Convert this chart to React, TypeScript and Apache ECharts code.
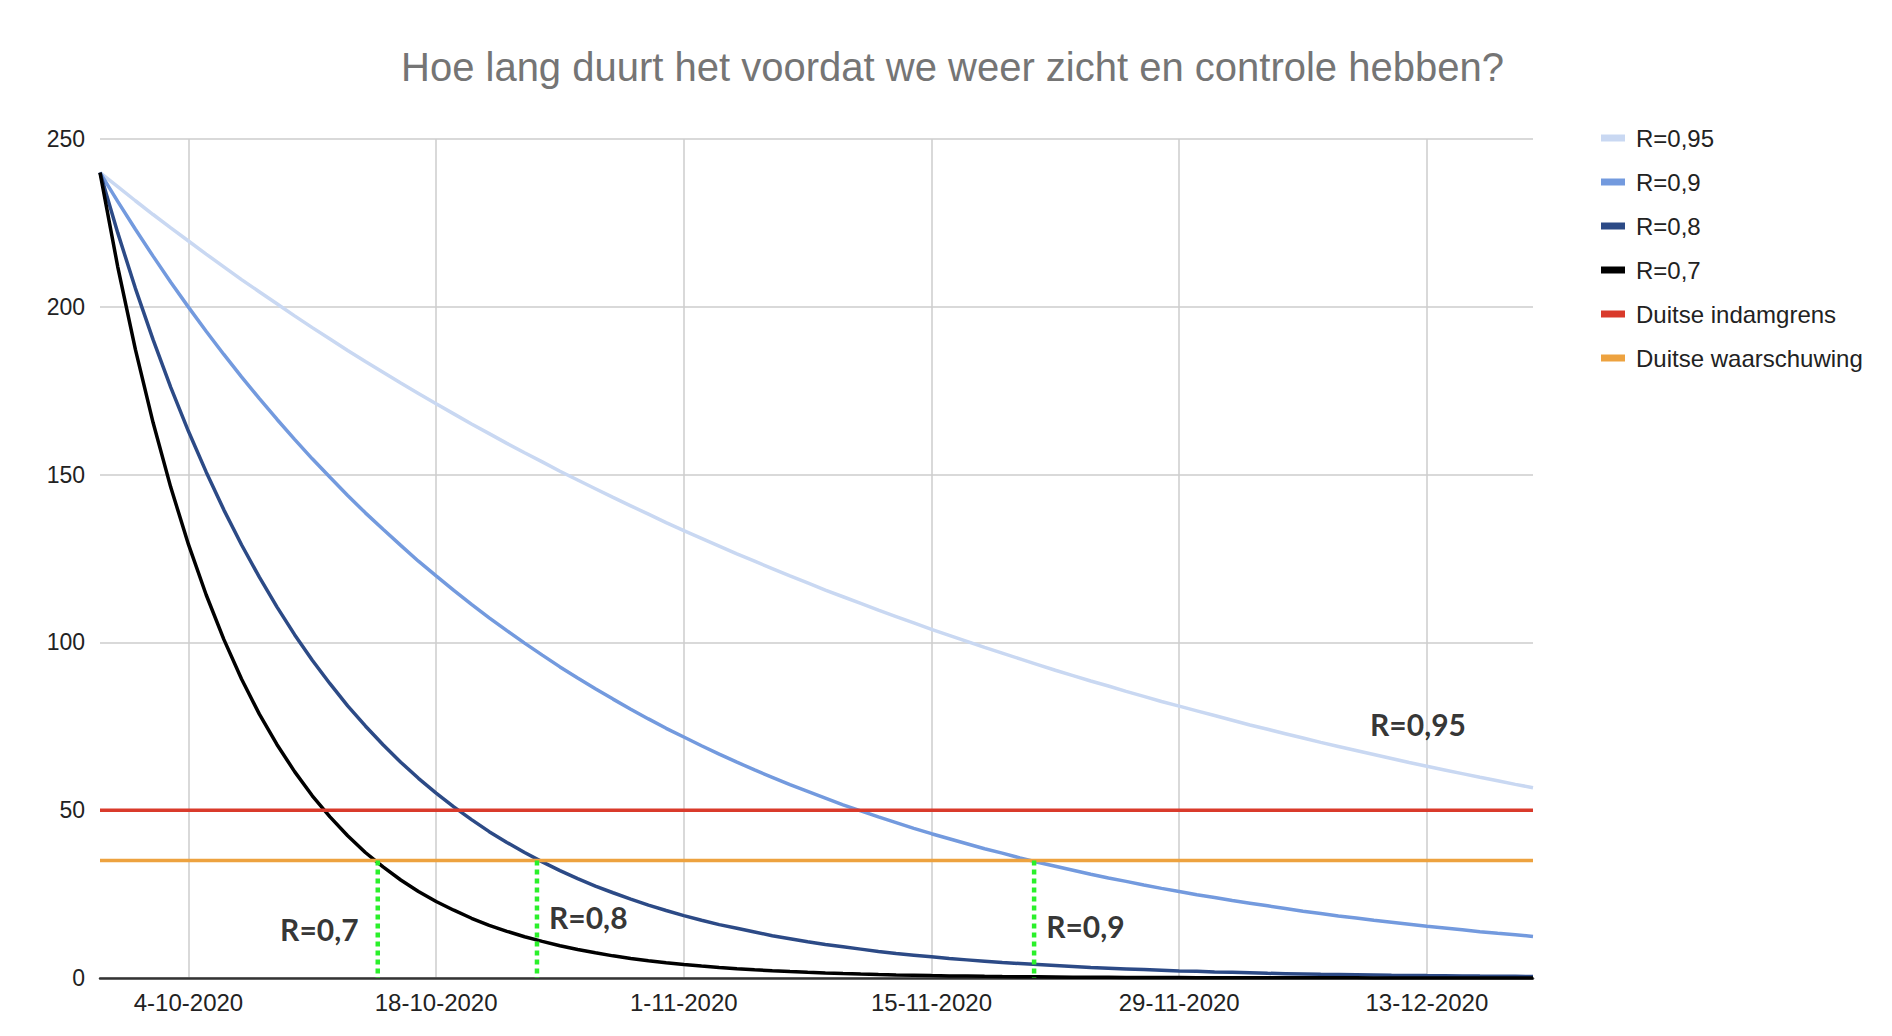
import React, { useEffect, useRef } from "react";
import * as echarts from "echarts";

const TITLE = "Hoe lang duurt het voordat we weer zicht en controle hebben?";
const START_DATE = [2020, 9, 29];
const DAY_COUNT = 82;
const TICK_LABELS = ["4-10-2020", "18-10-2020", "1-11-2020", "15-11-2020", "29-11-2020", "13-12-2020"];

const R095 = [
  240, 235.8, 231.6, 227.5, 223.5, 219.6, 215.7, 211.9, 208.1, 204.5,
  200.9, 197.3, 193.8, 190.4, 187.0, 183.7, 180.5, 177.3, 174.2, 171.1,
  168.1, 165.1, 162.2, 159.3, 156.5, 153.8, 151.0, 148.4, 145.8, 143.2,
  140.7, 138.2, 135.7, 133.3, 131.0, 128.7, 126.4, 124.2, 122.0, 119.8,
  117.7, 115.6, 113.6, 111.6, 109.6, 107.7, 105.8, 103.9, 102.1, 100.3,
  98.5, 96.8, 95.1, 93.4, 91.7, 90.1, 88.5, 87.0, 85.4, 83.9,
  82.4, 81.0, 79.6, 78.2, 76.8, 75.4, 74.1, 72.8, 71.5, 70.2,
  69.0, 67.8, 66.6, 65.4, 64.2, 63.1, 62.0, 60.9, 59.8, 58.8,
  57.7, 56.7,
];
const R09 = [
  240, 231.4, 223.1, 215.1, 207.3, 199.9, 192.7, 185.8, 179.1, 172.7,
  166.5, 160.5, 154.7, 149.2, 143.8, 138.6, 133.7, 128.9, 124.2, 119.8,
  115.5, 111.3, 107.3, 103.5, 99.8, 96.2, 92.7, 89.4, 86.2, 83.1,
  80.1, 77.2, 74.4, 71.8, 69.2, 66.7, 64.3, 62.0, 59.8, 57.6,
  55.6, 53.6, 51.6, 49.8, 48.0, 46.3, 44.6, 43.0, 41.5, 40.0,
  38.5, 37.2, 35.8, 34.5, 33.3, 32.1, 30.9, 29.8, 28.8, 27.7,
  26.7, 25.8, 24.8, 24.0, 23.1, 22.3, 21.5, 20.7, 19.9, 19.2,
  18.5, 17.9, 17.2, 16.6, 16.0, 15.4, 14.9, 14.4, 13.8, 13.3,
  12.9, 12.4,
];
const R08 = [
  240, 222.1, 205.5, 190.2, 176.0, 162.9, 150.8, 139.5, 129.1, 119.5,
  110.6, 102.3, 94.7, 87.7, 81.1, 75.1, 69.5, 64.3, 59.5, 55.1,
  51.0, 47.2, 43.6, 40.4, 37.4, 34.6, 32.0, 29.6, 27.4, 25.4,
  23.5, 21.7, 20.1, 18.6, 17.2, 15.9, 14.8, 13.7, 12.6, 11.7,
  10.8, 10.0, 9.3, 8.6, 7.9, 7.3, 6.8, 6.3, 5.8, 5.4,
  5.0, 4.6, 4.3, 4.0, 3.7, 3.4, 3.1, 2.9, 2.7, 2.5,
  2.3, 2.1, 2.0, 1.8, 1.7, 1.6, 1.4, 1.3, 1.2, 1.1,
  1.06, 0.98, 0.91, 0.84, 0.78, 0.72, 0.67, 0.62, 0.57, 0.53,
  0.49, 0.45,
];
const R07 = [
  240, 212.0, 187.3, 165.5, 146.2, 129.2, 114.2, 100.9, 89.1, 78.7,
  69.6, 61.5, 54.3, 48.0, 42.4, 37.4, 33.1, 29.2, 25.8, 22.8,
  20.2, 17.8, 15.7, 13.9, 12.3, 10.9, 9.6, 8.5, 7.5, 6.6,
  5.84, 5.16, 4.56, 4.03, 3.56, 3.15, 2.78, 2.46, 2.17, 1.92,
  1.69, 1.5, 1.32, 1.17, 1.03, 0.91, 0.81, 0.71, 0.63, 0.56,
  0.49, 0.43, 0.38, 0.34, 0.3, 0.26, 0.23, 0.21, 0.18, 0.16,
  0.14, 0.13, 0.11, 0.1, 0.09, 0.08, 0.07, 0.06, 0.05, 0.05,
  0.04, 0.04, 0.03, 0.03, 0.03, 0.02, 0.02, 0.02, 0.02, 0.01,
  0.01, 0.01,
];
const INDAMGRENS = 50;
const WAARSCHUWING = 35;
// day index (from 29-9-2020) where each curve crosses the warning level
const CROSS_DAYS = [15.7, 24.7, 52.8];
const ANNOTATIONS = [
  { text: "R=0,7", day: 12.4, value: 14.7 },
  { text: "R=0,8", day: 27.6, value: 18.2 },
  { text: "R=0,9", day: 55.7, value: 15.6 },
  { text: "R=0,95", day: 74.5, value: 75.6 },
];

function buildCategories(): string[] {
  const out: string[] = [];
  const base = Date.UTC(START_DATE[0], START_DATE[1] - 1, START_DATE[2]);
  for (let i = 0; i < DAY_COUNT; i++) {
    const d = new Date(base + i * 86400000);
    out.push(`${d.getUTCDate()}-${d.getUTCMonth() + 1}-${d.getUTCFullYear()}`);
  }
  return out;
}

const FONT = "'Liberation Sans', Arial, sans-serif";

export default function App() {
  const ref = useRef<HTMLDivElement>(null);
  useEffect(() => {
    if (!ref.current) return;
    const chart = echarts.init(ref.current, undefined, { renderer: "svg" });
    const categories = buildCategories();
    const isTick = (idx: number) => TICK_LABELS.indexOf(categories[idx]) >= 0;

    const lineSeries = (name: string, data: number[], color: string, width = 3.5) => ({
      name,
      type: "line",
      data,
      color,
      showSymbol: false,
      symbol: "none",
      lineStyle: { color, width },
      itemStyle: { color },
      z: 3,
    });

    const greenLines = CROSS_DAYS.map((d) => ({
      type: "line",
      xAxisIndex: 1,
      yAxisIndex: 0,
      data: [
        [d, WAARSCHUWING],
        [d, 0],
      ],
      symbol: "none",
      lineStyle: { color: "#2af02a", width: 4.5, type: [5, 4] },
      z: 5,
      silent: true,
    }));

    chart.setOption({
      animation: false,
      backgroundColor: "#ffffff",
      title: {
        text: TITLE,
        left: 396,
        top: 40,
        textStyle: { fontFamily: FONT, fontSize: 40, fontWeight: "normal", color: "#757575", lineHeight: 44 },
      },
      legend: {
        orient: "vertical",
        left: 1596,
        top: 121,
        icon: "rect",
        itemWidth: 24,
        itemHeight: 7,
        itemGap: 20,
        data: ["R=0,95", "R=0,9", "R=0,8", "R=0,7", "Duitse indamgrens", "Duitse waarschuwing"],
        textStyle: { fontFamily: FONT, fontSize: 24, color: "#222222", lineHeight: 24, padding: [0, 0, 0, 6] },
        itemStyle: { borderWidth: 0 },
      },
      grid: { left: 100, right: 359, top: 139, bottom: 58, containLabel: false },
      xAxis: [
        {
          type: "category",
          data: categories,
          boundaryGap: false,
          axisLine: { show: true, lineStyle: { color: "#333333", width: 2.5 } },
          axisTick: { show: false },
          axisLabel: {
            interval: (idx: number) => isTick(idx),
            fontFamily: FONT,
            fontSize: 24,
            color: "#222222",
            margin: 12,
          },
          splitLine: {
            show: true,
            interval: (idx: number) => isTick(idx),
            lineStyle: { color: "#cccccc", width: 1.5 },
          },
        },
        { type: "value", min: 0, max: DAY_COUNT - 1, show: false },
      ],
      yAxis: {
        type: "value",
        min: 0,
        max: 250,
        interval: 50,
        axisLine: { show: false },
        axisTick: { show: false },
        axisLabel: { fontFamily: FONT, fontSize: 23, color: "#222222", margin: 15 },
        splitLine: { show: true, lineStyle: { color: "#cccccc", width: 1.5 } },
      },
      series: [
        lineSeries("R=0,95", R095, "#c9d8f2"),
        lineSeries("R=0,9", R09, "#739ade"),
        lineSeries("R=0,8", R08, "#2c4a86"),
        lineSeries("R=0,7", R07, "#000000"),
        lineSeries("Duitse indamgrens", categories.map(() => INDAMGRENS), "#d93a2b"),
        lineSeries("Duitse waarschuwing", categories.map(() => WAARSCHUWING), "#eda23f"),
        ...greenLines,
        {
          type: "scatter",
          xAxisIndex: 1,
          yAxisIndex: 0,
          symbolSize: 0,
          silent: true,
          z: 6,
          data: ANNOTATIONS.map((a) => ({ value: [a.day, a.value], name: a.text })),
          label: {
            show: true,
            position: "inside",
            formatter: (p: any) => p.name,
            fontFamily: "Lato, 'Open Sans', sans-serif",
            fontWeight: "bold",
            fontSize: 30,
            color: "#000000",
          },
        },
      ],
    });
    return () => chart.dispose();
  }, []);
  return <div ref={ref} style={{ width: 1892, height: 1036, position: "absolute", left: 0, top: 0 }} />;
}
